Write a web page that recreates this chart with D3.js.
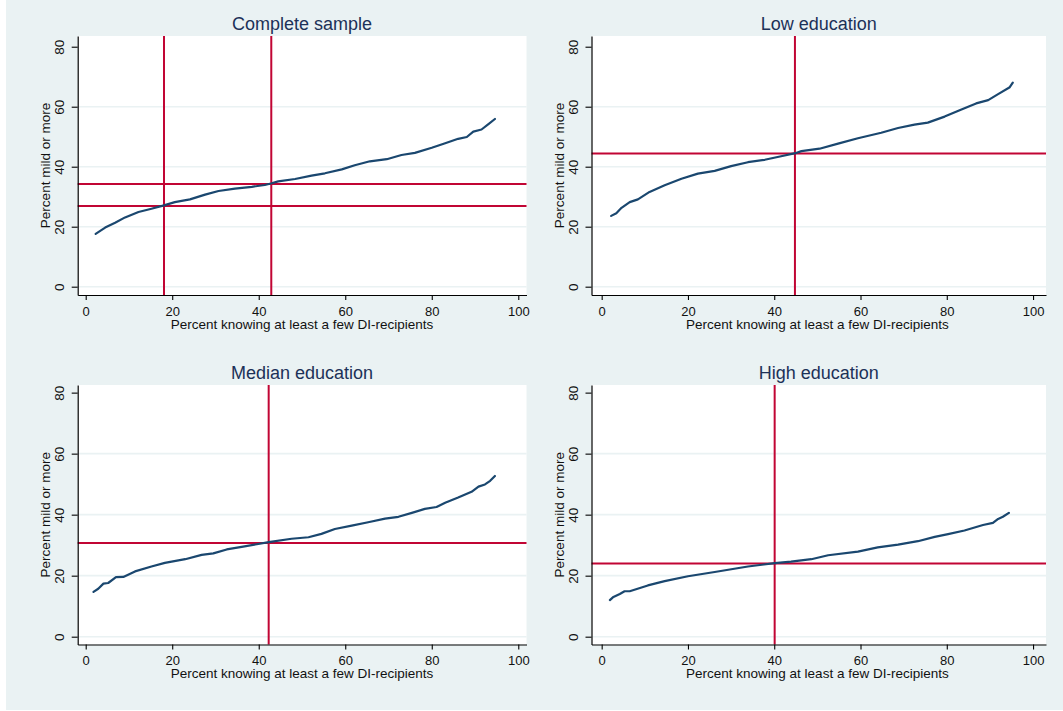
<!DOCTYPE html>
<html>
<head>
<meta charset="utf-8">
<script src="https://cdn.jsdelivr.net/npm/d3@7"></script>
<style>
  body { margin: 0; background: #ffffff; }
  svg { display: block; font-family: "Liberation Sans", Arial, sans-serif; }
</style>
</head>
<body>
<div id="chart"></div>
<script>
// Tick values and labels
const xTicks = [0, 20, 40, 60, 80, 100];
const yTicks = [0, 20, 40, 60, 80];
const gridTicks = [0, 20, 40, 60];
const titles = ["Complete sample", "Low education", "Median education", "High education"];
const xLabel = "Percent knowing at least a few DI-recipients";
const yLabel = "Percent mild or more";

// Complete sample
const completeX = [2.3, 4.5, 6.8, 9.1, 12.2, 15.2, 18.1, 20.6, 24.1, 27.6, 30.7, 34.5, 38.4, 41.4, 42.8, 44.5, 48.4, 52.2, 55.3, 59.2, 62.2, 65.7, 69.6, 73.0, 76.1, 80.0, 83.1, 86.1, 88.1, 89.6, 91.5, 93.1, 94.6];
const completeY = [17.6, 19.7, 21.3, 23.1, 24.9, 26.0, 27.1, 28.2, 29.1, 30.7, 31.9, 32.7, 33.3, 33.9, 34.4, 35.1, 35.9, 37.0, 37.8, 39.1, 40.5, 41.8, 42.5, 43.9, 44.6, 46.3, 47.8, 49.3, 49.9, 51.7, 52.4, 54.2, 55.9];
const completeV = [18.1, 42.9];
const completeH = [26.9, 34.2];

// Low education
const lowX = [2.2, 3.4, 4.6, 6.5, 8.4, 11.1, 14.6, 18.5, 22.3, 26.2, 30.0, 33.9, 37.8, 41.6, 44.9, 46.3, 50.5, 54.8, 59.4, 64.8, 68.7, 72.5, 75.6, 79.5, 83.4, 86.8, 89.6, 91.9, 94.6, 95.3];
const lowY = [23.6, 24.5, 26.3, 28.2, 29.1, 31.6, 33.8, 36.0, 37.7, 38.6, 40.2, 41.5, 42.3, 43.5, 44.5, 45.2, 46.0, 47.7, 49.5, 51.3, 52.9, 54.0, 54.7, 56.7, 59.1, 61.1, 62.2, 64.2, 66.5, 68.0];
const lowV = [44.8];
const lowH = [44.4];

// Median education
const medianX = [1.8, 2.9, 4.1, 5.2, 7.0, 8.7, 11.4, 15.2, 18.3, 23.0, 26.8, 29.5, 32.6, 36.4, 42.3, 47.6, 51.5, 54.5, 57.6, 61.5, 65.3, 69.2, 72.3, 75.4, 78.4, 81.1, 83.1, 86.1, 89.2, 90.8, 92.3, 93.5, 94.6];
const medianY = [14.7, 15.7, 17.4, 17.6, 19.5, 19.6, 21.4, 23.0, 24.2, 25.4, 26.8, 27.3, 28.6, 29.5, 31.0, 32.1, 32.6, 33.7, 35.3, 36.4, 37.5, 38.7, 39.3, 40.6, 41.9, 42.5, 43.9, 45.6, 47.5, 49.2, 49.9, 51.1, 52.7];
const medianV = [42.3];
const medianH = [30.7];

// High education
const highX = [1.9, 2.6, 4.2, 5.3, 6.5, 10.7, 14.6, 20.0, 26.2, 33.9, 40.1, 43.9, 48.6, 52.5, 59.4, 64.0, 68.7, 73.3, 77.2, 80.3, 84.1, 88.4, 90.7, 91.9, 93.0, 94.4];
const highY = [12.0, 12.9, 14.0, 14.9, 14.9, 16.8, 18.2, 19.8, 21.2, 23.0, 24.1, 24.6, 25.4, 26.7, 27.9, 29.3, 30.2, 31.3, 32.7, 33.6, 34.8, 36.6, 37.3, 38.6, 39.3, 40.6];
const highV = [40.1];
const highH = [24.0];

const panels = [
  {title: titles[0], xs: completeX, ys: completeY, v: completeV, h: completeH, col: 0, row: 0},
  {title: titles[1], xs: lowX, ys: lowY, v: lowV, h: lowH, col: 1, row: 0},
  {title: titles[2], xs: medianX, ys: medianY, v: medianV, h: medianH, col: 0, row: 1},
  {title: titles[3], xs: highX, ys: highY, v: highV, h: highH, col: 1, row: 1}
];

// Layout of the plot regions
const W = 1063, H = 711;
const cols = [
  {x0: 77.7, x1: 526.5, dom: [-1.85, 101.9]},
  {x0: 591.5, x1: 1046, dom: [-2.36, 103.0]}
];
const rows = [
  {y0: 36, y1: 295, dom: [-2.77, 83.57]},
  {y0: 385, y1: 644.5, dom: [-2.56, 82.5]}
];

const navy = "#1a476f", red = "#c10534", grid = "#eaf2f3", bg = "#eaf2f3";

const svg = d3.select("#chart")
  .append("svg")
    .attr("width", W)
    .attr("height", H);

svg.append("rect")
  .attr("x", 6).attr("y", 0)
  .attr("width", W - 6).attr("height", H - 1)
  .attr("fill", bg);

panels.forEach(p => {
  const c = cols[p.col], r = rows[p.row];
  const x = d3.scaleLinear().domain(c.dom).range([c.x0, c.x1]);
  const y = d3.scaleLinear().domain(r.dom).range([r.y1, r.y0]);
  const g = svg.append("g");

  // plot region
  g.append("rect")
    .attr("x", c.x0).attr("y", r.y0)
    .attr("width", c.x1 - c.x0).attr("height", r.y1 - r.y0)
    .attr("fill", "#ffffff");

  // gridlines
  g.selectAll(".grid")
    .data(gridTicks)
    .join("line")
      .attr("x1", c.x0).attr("x2", c.x1)
      .attr("y1", d => y(d)).attr("y2", d => y(d))
      .attr("stroke", grid)
      .attr("stroke-width", 1.6);

  // reference lines
  g.selectAll(".vline")
    .data(p.v)
    .join("line")
      .attr("x1", d => x(d)).attr("x2", d => x(d))
      .attr("y1", r.y0).attr("y2", r.y1)
      .attr("stroke", red)
      .attr("stroke-width", 2);
  g.selectAll(".hline")
    .data(p.h)
    .join("line")
      .attr("x1", c.x0).attr("x2", c.x1)
      .attr("y1", d => y(d)).attr("y2", d => y(d))
      .attr("stroke", red)
      .attr("stroke-width", 2);

  // curve
  const pts = p.xs.map((d, i) => [d, p.ys[i]]);
  g.append("path")
    .datum(pts)
    .attr("fill", "none")
    .attr("stroke", navy)
    .attr("stroke-width", 2.2)
    .attr("stroke-linejoin", "round")
    .attr("stroke-linecap", "round")
    .attr("d", d3.line().x(d => x(d[0])).y(d => y(d[1])));

  // x axis
  const xa = g.append("g")
    .attr("transform", `translate(0,${r.y1})`)
    .call(d3.axisBottom(x).tickValues(xTicks).tickSize(5).tickSizeOuter(0));
  xa.selectAll("text")
    .attr("y", 20.5).attr("dy", 0)
    .style("font-size", "13px")
    .attr("fill", "#111");

  // y axis
  const ya = g.append("g")
    .attr("transform", `translate(${c.x0},0)`)
    .call(d3.axisLeft(y).tickValues(yTicks).tickSize(6).tickSizeOuter(0));
  ya.selectAll("text")
    .attr("x", 0).attr("dy", 0)
    .attr("text-anchor", "middle")
    .attr("transform", "translate(-14,0) rotate(-90)")
    .style("font-size", "13.5px")
    .attr("fill", "#111");

  [xa, ya].forEach(a => {
    a.selectAll("path, line").attr("stroke", "#000").attr("stroke-width", 1.1);
    a.select(".domain").attr("stroke-width", 1.2);
  });

  // axis titles
  g.append("text")
    .attr("x", x(50))
    .attr("y", r.y1 + 33.5)
    .attr("text-anchor", "middle")
    .style("font-size", "13.5px")
    .attr("fill", "#111")
    .text(xLabel);

  g.append("text")
    .attr("transform", `translate(${c.x0 - 28},${(r.y0 + r.y1) / 2}) rotate(-90)`)
    .attr("text-anchor", "middle")
    .style("font-size", "13.5px")
    .attr("fill", "#111")
    .text(yLabel);

  // panel title
  g.append("text")
    .attr("x", (c.x0 + c.x1) / 2)
    .attr("y", r.y0 - 6)
    .attr("text-anchor", "middle")
    .style("font-size", "18px")
    .attr("fill", "#1c3158")
    .text(p.title);
});
</script>
</body>
</html>
